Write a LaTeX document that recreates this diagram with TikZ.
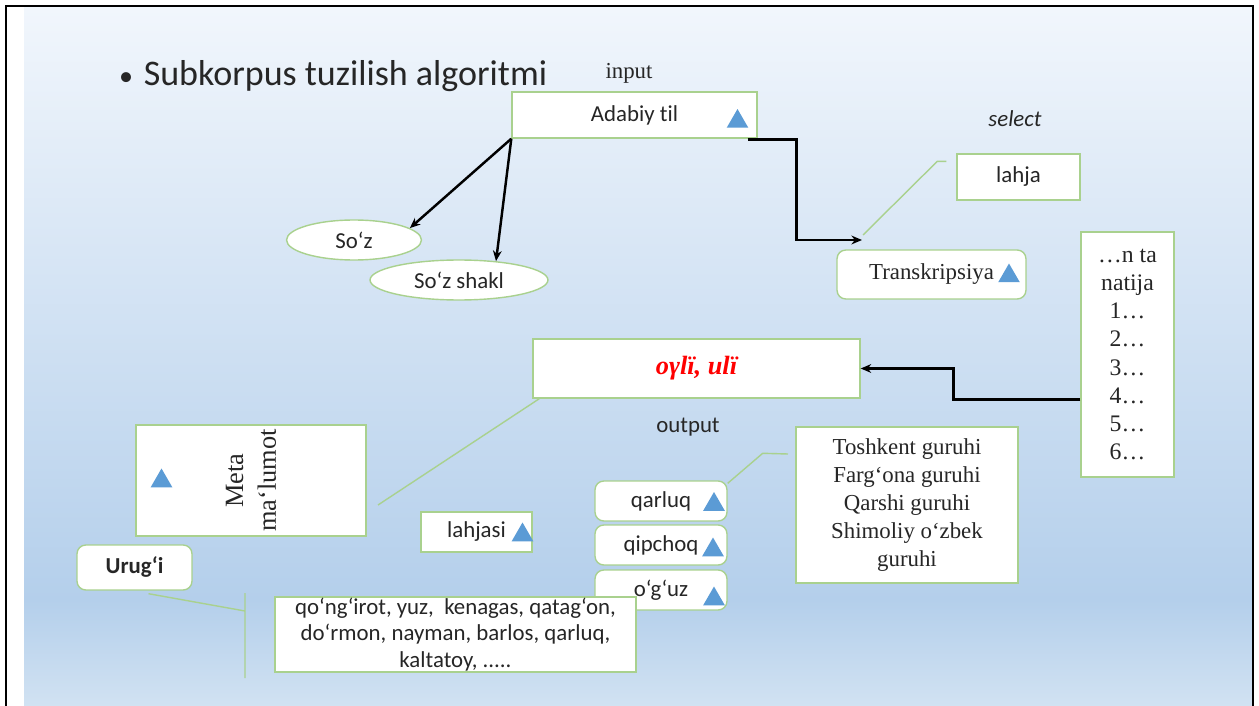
\documentclass[tikz,border=0pt]{standalone}
\usepackage{fontspec}
\setmainfont{Carlito}[Ligatures=NoCommon]
\newfontfamily\tnr{Liberation Serif}
\usetikzlibrary{arrows.meta,shapes.geometric}
\definecolor{boxgreen}{HTML}{A9D18E}
\definecolor{triblue}{HTML}{5B9BD5}
\definecolor{bgtop}{HTML}{F1F6FC}
\definecolor{bgmid}{HTML}{B4CFEB}
\definecolor{bgbot}{HTML}{D1E2F2}
\definecolor{txt}{HTML}{262626}

\begin{document}
\begin{tikzpicture}[x=0.02cm, y=-0.02cm,
  box/.style={draw=boxgreen, line width=0.8pt, fill=white, inner sep=0pt, text=txt, font=\fontsize{13}{16}\selectfont},
  rbox/.style={box, rounded corners=5pt},
  oval/.style={box, ellipse},
  serif/.style={font=\tnr\fontsize{13}{16}\selectfont},
  tri/.style={regular polygon, regular polygon sides=3, fill=triblue, inner sep=0pt, outer sep=0pt, minimum size=0.5cm},
  arr/.style={line width=1.4pt, -{Stealth[length=6pt,width=5pt]}},
  callout/.style={boxgreen, line width=0.8pt}]
\useasboundingbox (0,0) rectangle (1259,706);
\shade[top color=bgtop, bottom color=bgmid] (24,8) rectangle (1253,600);
\shade[top color=bgmid, bottom color=bgbot] (24,600) rectangle (1253,706);
\draw[line width=1.5pt] (6,706) -- (6,6) -- (1253,6) -- (1253,706);

\node[anchor=west, text=txt, font=\fontsize{20.5}{24}\selectfont] (title) at (113,76) {{\fontsize{16}{16}\selectfont•}\hspace{6pt}Subkorpus tuzilish algoritmi};
\node[serif, text=txt] (input) at (629,73) {input};
\node[box, minimum width=4.9cm, minimum height=0.92cm] (adabiy) at (634.5,115) {Adabiy til};
\node[text=txt, font=\itshape\fontsize{13}{16}\selectfont] (select) at (1015,119) {select};

\node[oval, minimum width=2.7cm, minimum height=0.8cm] (soz) at (354,240) {So‘z};
\node[oval, minimum width=3.56cm, minimum height=0.8cm] (sozshakl) at (459,280) {So‘z shakl};
\node[box, minimum width=2.46cm, minimum height=0.92cm] (lahja) at (1018.5,177) {lahja};
\node[rbox, serif, minimum width=3.78cm, minimum height=0.98cm] (transk) at (931.5,274.5) {Transkripsiya};
\node[box, serif, font=\tnr\fontsize{13.5}{16}\selectfont, align=center, minimum width=1.86cm, minimum height=4.9cm] (natija) at (1127.5,354.5) {…n ta\\natija\\1…\\2…\\3…\\4…\\5…\\6…};
\node[box, minimum width=6.54cm, minimum height=1.18cm, text=red, font=\tnr\bfseries\itshape\fontsize{15}{18}\selectfont] (oyli) at (696.5,368.5) {oγlï, ulï};
\node[text=txt, font=\fontsize{13}{16}\selectfont] (output) at (688,427) {output};

\node[box, rotate=90, align=center, font=\tnr\fontsize{15}{18.5}\selectfont, minimum width=2.22cm, minimum height=4.6cm] (meta) at (251,480.5) {Meta\\ma‘lumot};
\node[rbox, font=\bfseries\fontsize{13}{16}\selectfont, minimum width=2.3cm, minimum height=0.9cm] (urugi) at (134.5,567.5) {Urug‘i};
\node[box, minimum width=2.22cm, minimum height=0.8cm] (lahjasi) at (476.5,532) {lahjasi};
\node[rbox, minimum width=2.64cm, minimum height=0.8cm] (qarluq) at (661,501) {qarluq};
\node[rbox, minimum width=2.64cm, minimum height=0.8cm] (qipchoq) at (661,545) {qipchoq};
\node[rbox, minimum width=2.64cm, minimum height=0.8cm] (oguz) at (661,590) {o‘g‘uz};
\node[box, serif, align=center, minimum width=4.44cm, minimum height=3.12cm] (toshkent) at (907,505) {Toshkent guruhi\\Farg‘ona guruhi\\Qarshi guruhi\\Shimoliy o‘zbek\\guruhi};
\node[box, align=center, font=\fontsize{13}{15.3}\selectfont, minimum width=7.22cm, minimum height=1.5cm] (words) at (455.5,634.5) {qo‘ng‘irot, yuz,~ kenagas, qatag‘on,\\do‘rmon, nayman, barlos, qarluq,\\kaltatoy, .....};

\foreach \x/\y [count=\i] in {737.5/121.5, 1009/276, 161.5/481, 522.5/535, 714/504.5, 713/550, 714/599}
\node[tri] (tri\i) at (\x,\y) {};

\coordinate (sel) at (862,240);
\coordinate (lahjatip) at (863,235);
\coordinate (metatip) at (378,505);
\coordinate (groupstip) at (788,454);
\coordinate (bartop) at (245,593);
\coordinate (barbot) at (245,678);

\draw[arr] (adabiy.south west) -- (soz.12);
\draw[arr] (adabiy.south west) -- (sozshakl.27);
\draw[arr] ([shift={(-10,1)}]adabiy.south east) -- ++(49,0) |- (sel);
\draw[arr] ([shift={(0,45)}]natija.west) -- ++(-127,0) |- (oyli.east);

\draw[callout] ([shift={(-10,8)}]lahja.north west) -- ++(-9,0) -- (lahjatip);
\draw[callout] ([shift={(7,0)}]oyli.south west) -- (metatip);
\draw[callout] ([shift={(0,3)}]qarluq.north east) -- ++(35,-30) -- (groupstip);
\draw[callout] ([shift={(14,3)}]urugi.south) -- (bartop |- 0,611) (bartop) -- (barbot);
\end{tikzpicture}
\end{document}
